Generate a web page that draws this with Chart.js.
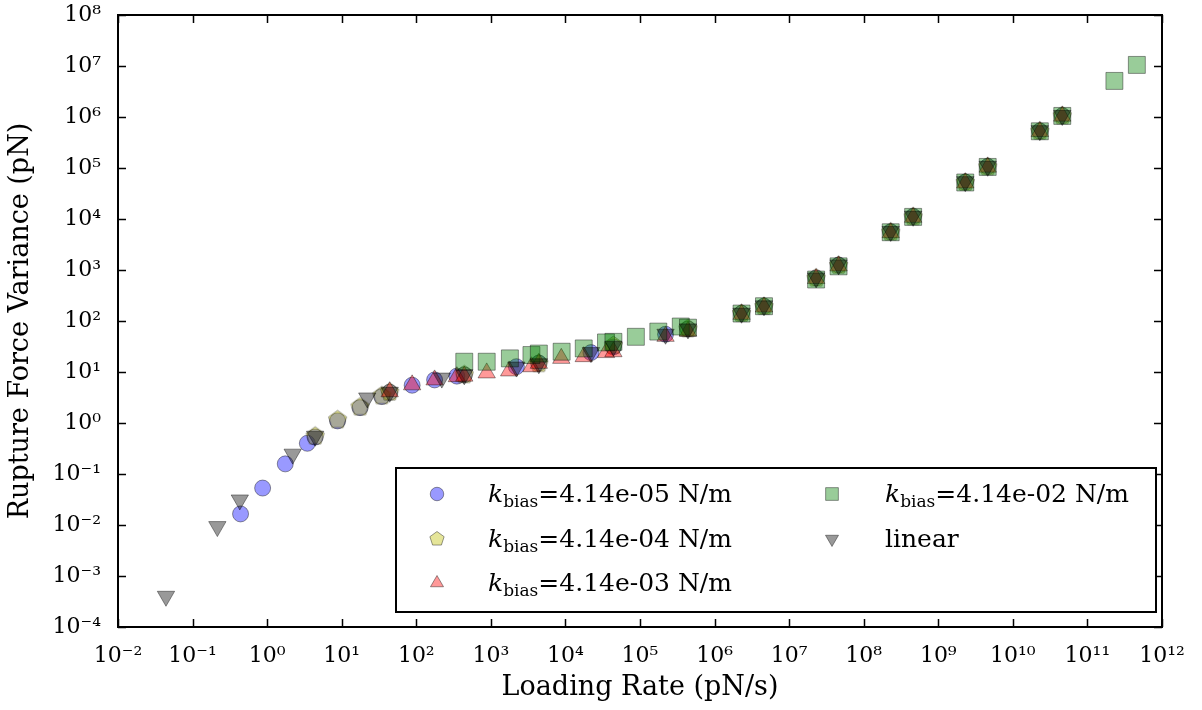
<!DOCTYPE html>
<html><head><meta charset="utf-8">
<script src="https://cdn.jsdelivr.net/npm/chart.js@4.4.1/dist/chart.umd.min.js"></script>
<style>html,body{margin:0;padding:0;background:#fff}</style>
</head><body>
<canvas id="c" width="1202" height="710"></canvas>
<script>
// ---- data ----
const highX = [2.3e6, 4.6e6, 2.3e7, 4.6e7, 2.3e8, 4.6e8, 2.3e9, 4.6e9, 2.3e10, 4.6e10];

const circleX = [0.44, 0.87, 1.75, 3.46, 4.4, 8.8, 17.6, 34.5, 44, 88, 176, 350, 440, 2200, 4400, 22000, 44000, 220000, 440000].concat(highX);
const circleY = [0.0165, 0.053, 0.158, 0.40, 0.53, 1.1, 2.0, 3.3, 4.0, 5.5, 7.0, 8.3, 8.8, 12.7, 15, 24, 31, 55, 70,
                 141, 195, 700, 1250, 5600, 11200, 53000, 107000, 530000, 1.06e6];

const pentX = [4.4, 8.8, 17.6, 34.5, 44, 440, 4400, 44000, 440000].concat(highX);
const pentY = [0.55, 1.15, 2.05, 3.4, 4.0, 8.8, 14.5, 33, 70,
               140, 192, 690, 1230, 5500, 11000, 52000, 105000, 525000, 1.05e6];

const triX = [44, 88, 176, 350, 440, 880, 1760, 3500, 4400, 8800, 17600, 35000, 44000, 220000, 440000].concat(highX);
const triY = [4.1, 5.6, 7.0, 8.1, 8.3, 9.6, 10.5, 12.7, 14.8, 18.5, 20, 24, 25, 50, 63,
              135, 188, 680, 1200, 5400, 10800, 51000, 104000, 520000, 1.04e6];

const squareX = [440, 880, 1800, 3500, 4400, 8900, 17600, 35000, 44000, 88000, 176000, 352000, 440000].concat(highX).concat([2.3e11, 4.6e11]);
const squareY = [15.9, 15.9, 18.5, 21.5, 23, 25, 29, 38, 39, 49, 62, 78, 74,
                 140, 195, 650, 1180, 5500, 11000, 52000, 105000, 525000, 1.05e6, 5.1e6, 1.05e7];

const linearX = [0.044, 0.215, 0.43, 2.2, 4.4, 22, 44, 220, 440, 2200, 4400, 22000, 44000, 220000, 440000].concat(highX);
const linearY = [4.0e-4, 0.0093, 0.031, 0.245, 0.55, 3.1, 4.0, 7.6, 8.8, 12.5, 14.5, 24, 32, 55, 70,
                 142, 198, 700, 1260, 5700, 11300, 54000, 108000, 540000, 1.07e6];

const seriesLabels = ['4.14e-05 N/m', '4.14e-04 N/m', '4.14e-03 N/m', '4.14e-02 N/m', 'linear'];
const xTickExps = [-2, -1, 0, 1, 2, 3, 4, 5, 6, 7, 8, 9, 10, 11, 12];
const yTickExps = [-4, -3, -2, -1, 0, 1, 2, 3, 4, 5, 6, 7, 8];
const xTitle = 'Loading Rate (pN/s)';
const yTitle = 'Rupture Force Variance (pN)';

// ---- styling helpers ----
const SERIF = "'DejaVu Serif', 'Liberation Serif', serif";
const FILL = ['rgba(0,0,255,0.4)', 'rgba(191,191,0,0.4)', 'rgba(255,0,0,0.4)', 'rgba(0,128,0,0.4)', 'rgba(0,0,0,0.4)'];
const EDGE = 'rgba(0,0,0,0.4)';

function sup(n) {
  const m = {'-':'⁻','0':'⁰','1':'¹','2':'²','3':'³','4':'⁴','5':'⁵','6':'⁶','7':'⁷','8':'⁸','9':'⁹'};
  return String(n).split('').map(c => m[c]).join('');
}
function pentPath(g, x, y, r) {
  g.beginPath();
  for (let i = 0; i < 5; i++) {
    const a = -Math.PI / 2 + i * 2 * Math.PI / 5;
    const px = x + r * Math.cos(a), py = y + r * Math.sin(a);
    if (i) g.lineTo(px, py); else g.moveTo(px, py);
  }
  g.closePath();
}
function pentImage(r) {
  const c = document.createElement('canvas');
  const s = Math.ceil(2 * r + 4);
  c.width = s; c.height = s;
  const g = c.getContext('2d');
  pentPath(g, s / 2, s / 2, r);
  g.fillStyle = FILL[1]; g.fill();
  g.lineWidth = 1; g.strokeStyle = EDGE; g.stroke();
  return c;
}
const pent = pentImage(9.5);

function pts(xs, ys) { return xs.map((x, i) => ({x: x, y: ys[i]})); }

// ---- plugins: inward ticks, frame, legend ----
function drawMarker(g, kind, x, y, s) {
  g.beginPath();
  if (kind === 0) { g.arc(x, y, s * 0.9, 0, Math.PI * 2); }
  else if (kind === 1) { pentPath(g, x, y, s); }
  else if (kind === 2) { g.moveTo(x, y - s); g.lineTo(x + s * 0.87, y + s * 0.5); g.lineTo(x - s * 0.87, y + s * 0.5); g.closePath(); }
  else if (kind === 3) { g.rect(x - s * 0.85, y - s * 0.85, s * 1.7, s * 1.7); }
  else { g.moveTo(x, y + s); g.lineTo(x + s * 0.87, y - s * 0.5); g.lineTo(x - s * 0.87, y - s * 0.5); g.closePath(); }
  g.fillStyle = FILL[kind]; g.fill();
  g.lineWidth = 1; g.strokeStyle = EDGE; g.stroke();
}

const framePlugin = {
  id: 'frame',
  afterDatasetsDraw(chart) {
    const g = chart.ctx, a = chart.chartArea;
    const xs = chart.scales.x, ys = chart.scales.y;
    g.save();
    g.strokeStyle = '#000'; g.lineWidth = 1.5;
    g.beginPath();
    xs.ticks.forEach(t => {
      const p = Math.round(xs.getPixelForValue(t.value)) + 0.5;
      g.moveTo(p, a.bottom); g.lineTo(p, a.bottom - 8);
      g.moveTo(p, a.top); g.lineTo(p, a.top + 8);
    });
    ys.ticks.forEach(t => {
      const p = Math.round(ys.getPixelForValue(t.value)) + 0.5;
      g.moveTo(a.left, p); g.lineTo(a.left + 8, p);
      g.moveTo(a.right, p); g.lineTo(a.right - 8, p);
    });
    g.stroke();
    g.lineWidth = 2;
    g.strokeRect(a.left, a.top, a.right - a.left, a.bottom - a.top);
    g.restore();
  },
  afterDraw(chart) {
    const g = chart.ctx, a = chart.chartArea;
    const L = a.right - 766, T = a.bottom - 159, W = 760, H = 144;
    g.save();
    g.fillStyle = '#fff'; g.fillRect(L, T, W, H);
    g.strokeStyle = '#000'; g.lineWidth = 2; g.strokeRect(L, T, W, H);
    const rows = [26, 71, 115];
    const cols = [{m: 41, t: 92}, {m: 436, t: 489}];
    const order = [[0, 0, 0], [0, 1, 1], [0, 2, 2], [1, 0, 3], [1, 1, 4]];
    order.forEach(([c, r, k]) => {
      const cy = T + rows[r], mx = L + cols[c].m, tx = L + cols[c].t;
      drawMarker(g, k, mx, cy, 7.5);
      g.fillStyle = '#000';
      g.textBaseline = 'alphabetic';
      const base = cy + 8;
      if (k === 4) {
        g.font = '25px ' + SERIF;
        g.fillText(seriesLabels[k], tx, base);
      } else {
        g.font = 'italic 25px ' + SERIF;
        g.fillText('k', tx, base);
        let x = tx + g.measureText('k').width;
        g.font = '17px ' + SERIF;
        g.fillText('bias', x, base + 5);
        x += g.measureText('bias').width;
        g.font = '25px ' + SERIF;
        g.fillText('=' + seriesLabels[k], x, base);
      }
    });
    g.restore();
  }
};

const decTicks = exps => exps.map(e => ({value: Math.pow(10, e)}));
const expLabel = v => '10' + sup(Math.round(Math.log10(v)));

new Chart(document.getElementById('c'), {
  type: 'scatter',
  data: {
    datasets: [
      {label: seriesLabels[0], data: pts(circleX, circleY), pointStyle: 'circle', pointRadius: 8, backgroundColor: FILL[0], borderColor: EDGE, borderWidth: 1, order: 5},
      {label: seriesLabels[1], data: pts(pentX, pentY), pointStyle: pent, pointRadius: 9, backgroundColor: FILL[1], borderColor: EDGE, borderWidth: 1, order: 4},
      {label: seriesLabels[2], data: pts(triX, triY), pointStyle: 'triangle', pointRadius: 10, backgroundColor: FILL[2], borderColor: EDGE, borderWidth: 1, order: 3},
      {label: seriesLabels[3], data: pts(squareX, squareY), pointStyle: 'rect', pointRadius: 12, backgroundColor: FILL[3], borderColor: EDGE, borderWidth: 1, order: 2},
      {label: seriesLabels[4], data: pts(linearX, linearY), pointStyle: 'triangle', rotation: 180, pointRadius: 10, backgroundColor: FILL[4], borderColor: EDGE, borderWidth: 1, order: 1}
    ]
  },
  options: {
    responsive: false,
    devicePixelRatio: 1,
    animation: false,
    layout: {padding: {left: 0, right: 40, top: 15, bottom: 0}},
    plugins: {legend: {display: false}, tooltip: {enabled: false}},
    scales: {
      x: {
        type: 'logarithmic', min: 1e-2, max: 1e12,
        afterBuildTicks: s => { s.ticks = decTicks(xTickExps); },
        afterFit: s => { s.height = 83; s.paddingLeft = 0; s.paddingRight = 0; },
        grid: {display: false},
        border: {display: false},
        ticks: {callback: v => expLabel(v), font: {family: SERIF, size: 22}, color: '#000', padding: 8, maxRotation: 0, autoSkip: false},
        title: {display: true, text: xTitle, font: {family: SERIF, size: 27}, color: '#000', padding: {top: 0, bottom: 6}}
      },
      y: {
        type: 'logarithmic', min: 1e-4, max: 1e8,
        afterBuildTicks: s => { s.ticks = decTicks(yTickExps); },
        afterFit: s => { s.width = 118; s.paddingTop = 0; s.paddingBottom = 0; },
        grid: {display: false},
        border: {display: false},
        ticks: {callback: v => expLabel(v), font: {family: SERIF, size: 22}, color: '#000', padding: 9, autoSkip: false},
        title: {display: true, text: yTitle, font: {family: SERIF, size: 27}, color: '#000', padding: {top: 5, bottom: 0}}
      }
    }
  },
  plugins: [framePlugin]
});
</script>
</body></html>
